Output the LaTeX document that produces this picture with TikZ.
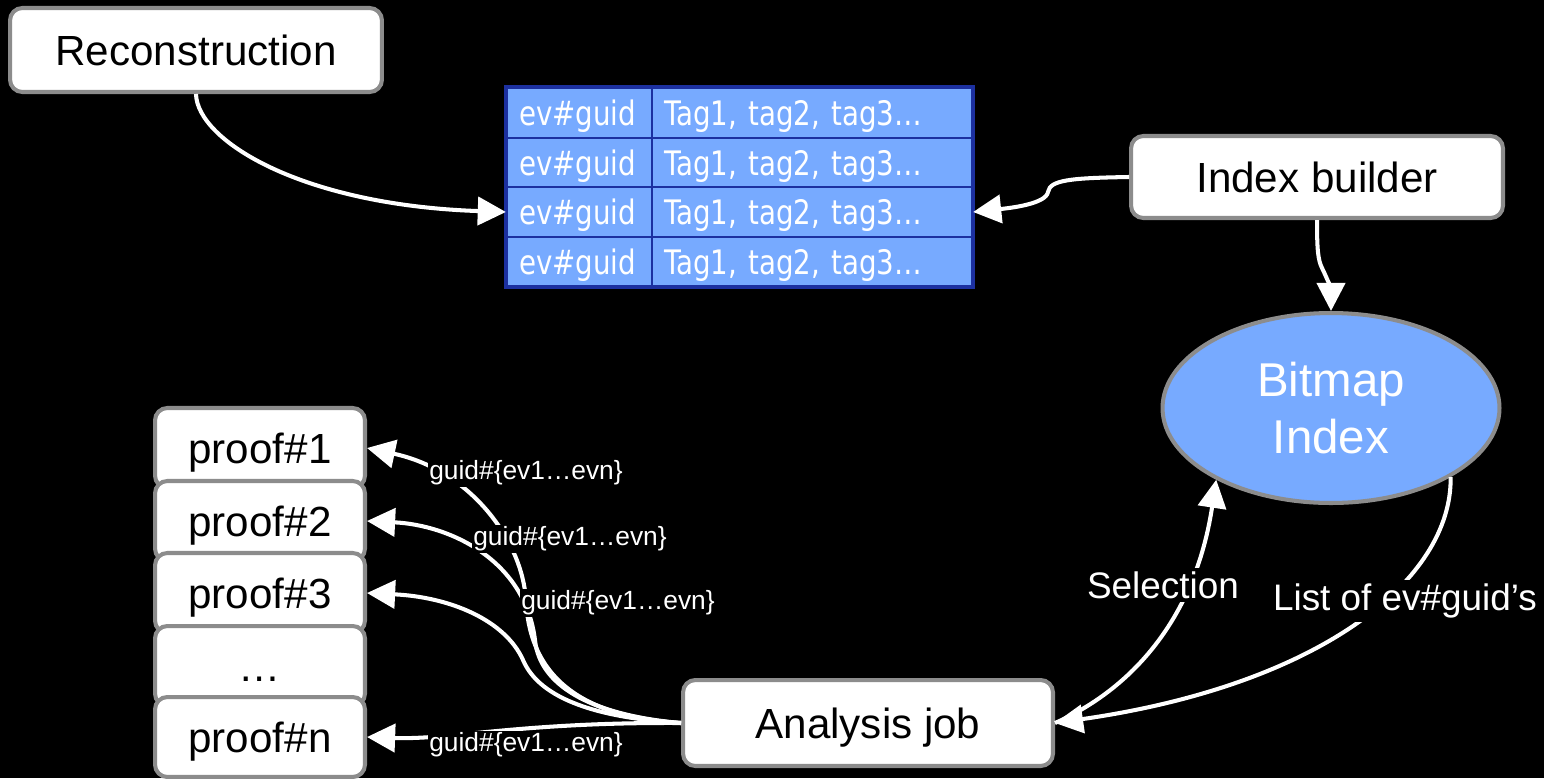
\documentclass[tikz,border=0pt]{standalone}
\usepackage{fontspec}
\setmainfont{Liberation Sans}
\newfontfamily\tabfont[FakeStretch=0.82]{DejaVu Sans}
\usetikzlibrary{arrows.meta,shapes.geometric}
\definecolor{boxgray}{RGB}{140,140,140}
\definecolor{cellfill}{RGB}{119,170,255}
\definecolor{celledge}{RGB}{28,48,160}
\definecolor{ovalfill}{RGB}{119,170,255}

\begin{document}
\begin{tikzpicture}[x=0.02cm,y=-0.02cm,
  procbox/.style={draw=boxgray, line width=2.3pt, fill=white, rounded corners=7pt,
    text=black, font=\fontsize{24}{28}\selectfont, inner sep=0pt,
    text height=17.5pt, text depth=0pt},
  proofbox/.style={procbox, minimum width=4.2cm, minimum height=1.6cm},
  cell/.style={draw=celledge, line width=1.3pt, fill=cellfill, text=white,
    minimum height=0.99cm, inner xsep=0.24cm, inner ysep=0pt, align=left,
    text height=14.6pt, text depth=0pt,
    font={\tabfont\fontsize{19.2}{22}\selectfont}},
  flow/.style={draw=white, line width=2.3pt, -{Triangle[length=16pt,width=16pt]}},
  edgelbl/.style={fill=black, text=white, inner sep=1pt, font=\fontsize{15}{18}\selectfont},
  sidelbl/.style={fill=black, text=white, inner sep=2pt, font=\fontsize{21}{25}\selectfont}
]
% canvas
\path[use as bounding box, fill=black] (0,0) rectangle (1544,778);

% tag table
\foreach \i/\y in {1/113,2/162.5,3/212,4/261.5}{
  \node[cell, text width=2.42cm] (g\i) at (579.5,\y) {ev\#guid};
  \node[cell, text width=5.92cm] (t\i) at (812,\y) {Tag1, tag2, tag3…};
}
\draw[celledge, line width=2pt] (g1.north west) rectangle (t4.south east);

% processes
\node[procbox, minimum width=7.44cm, minimum height=1.68cm] (rec) at (196,50) {Reconstruction};
\node[procbox, minimum width=7.44cm, minimum height=1.64cm] (ib) at (1317,177) {Index builder};
\node[procbox, minimum width=7.4cm, minimum height=1.72cm] (job) at (868,723) {Analysis job};
\node[ellipse, draw=boxgray, line width=2.3pt, fill=ovalfill, text=white,
  minimum width=6.74cm, minimum height=3.8cm, inner sep=0pt, align=center,
  font=\fontsize{27}{32}\selectfont] (bm) at (1331,408) {Bitmap\\Index};

% proof workers (stacked, each one over the previous)
\node[proofbox] (p1) at (260,448) {proof\#1};
\node[proofbox] (p2) at (260,521) {proof\#2};
\node[proofbox] (p3) at (260,593) {proof\#3};
\node[proofbox] (pd) at (260,666) {…};
\node[proofbox] (pn) at (260,737) {proof\#n};

% tag flow
\draw[flow] (rec.south) .. controls (197,140) and (300,205) .. (g3.west);
\draw[flow] (ib.west) .. controls (1070,178) and (1050,180) .. (1048,192)
  .. controls (1046,204) and (1010,208) .. (t3.east);
\draw[flow] (ib.south) .. controls (1317,250) and (1318,260) .. (1322,268)
  .. controls (1327,278) and (1331,290) .. (bm.north);

% query loop
\draw[flow] (job.east) .. controls (1130,690) and (1195,620) .. (bm.212);
\draw[flow] (bm.330) .. controls (1452,580) and (1320,685) .. (job.east);
\node[sidelbl] (sel) at (1163,585) {Selection};
\node[sidelbl] (lst) at (1405,601) {List of ev\#guid’s};

% dispatch to proof workers
\draw[flow] (job.west) .. controls (600,718) and (530,690) .. (526,600)
  .. controls (522,540) and (470,470) .. (p1.east);
\draw[flow] (job.west) .. controls (600,716) and (540,690) .. (535,640)
  .. controls (525,560) and (450,525) .. (p2.east);
\draw[flow] (job.west) .. controls (600,718) and (540,700) .. (523,660)
  .. controls (505,620) and (450,597) .. (p3.east);
\draw[flow] (job.west) .. controls (520,722) and (450,740) .. (pn.east);
\node[edgelbl] (l1) at (526,473) {guid\#\{ev1…evn\}};
\node[edgelbl] (l2) at (570,539) {guid\#\{ev1…evn\}};
\node[edgelbl] (l3) at (618,603) {guid\#\{ev1…evn\}};
\node[edgelbl] (ln) at (526,745) {guid\#\{ev1…evn\}};
\end{tikzpicture}
\end{document}
